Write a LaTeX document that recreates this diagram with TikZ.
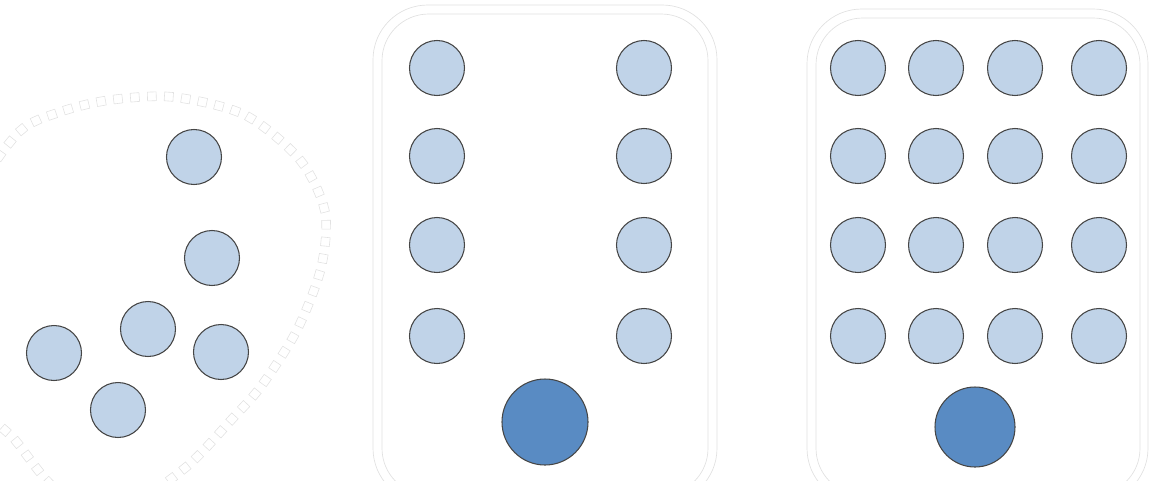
\documentclass[tikz,border=0pt]{standalone}
\usepackage{tikz}
\usetikzlibrary{decorations.markings}
\definecolor{ballfill}{RGB}{192,211,232}
\definecolor{bigfill}{RGB}{89,139,195}
\definecolor{ballline}{RGB}{70,70,70}
\definecolor{ringgray}{RGB}{226,226,226}

\begin{document}
\begin{tikzpicture}[x=0.75pt, y=-0.75pt,
    ball/.style={circle, draw=ballline, fill=ballfill, line width=0.8pt, inner sep=0pt, minimum size=41.25pt},
    bigball/.style={ball, fill=bigfill},
    frame/.style={draw=black!12, line width=0.5pt},
    ring/.style={decorate, decoration={markings, mark=between positions 0 and 1 step 12.75pt with {\draw[ringgray, line width=0.45pt] (-3.3pt,-3.3pt) rectangle (3.3pt,3.3pt);}}}]
    \useasboundingbox (0,0) rectangle (1149,480);
    \clip (0,0) rectangle (1149,480);

    % scattered group with its ring
    \path[ring] plot[smooth cycle] coordinates {(-40,300) (-25,200) (18,133) (60,112) (110,100) (173,97) (245,115) (300,160) (325,212) (321,268) (297,330) (262,385) (233,418) (185,468) (125,505) (60,492) (15,440) (-20,400)};
    \node[ball] (p1) at (194,157) {};
    \node[ball] (p2) at (212,258) {};
    \node[ball] (p3) at (148,329) {};
    \node[ball] (p4) at (221,352) {};
    \node[ball] (p5) at (54,353) {};
    \node[ball] (p6) at (118,410) {};

    % two columns
    \draw[frame, rounded corners=41pt] (373,5) rectangle (717,503);
    \draw[frame, rounded corners=35pt] (382,14) rectangle (708,495);
    \foreach \y [count=\j] in {68,156,245,336} {
        \foreach \x [count=\i] in {437,644}
            \node[ball] (m-\i-\j) at (\x,\y) {};
    }
    \node[bigball, minimum size=64.5pt] (mb) at (545,422) {};

    % full grid
    \draw[frame, rounded corners=41pt] (807,9) rectangle (1148,503);
    \draw[frame, rounded corners=35pt] (816,18) rectangle (1140,495);
    \foreach \y [count=\j] in {68,156,245,336} {
        \foreach \x [count=\i] in {858,936,1015,1099}
            \node[ball] (g-\i-\j) at (\x,\y) {};
    }
    \node[bigball, minimum size=60pt] (gb) at (975,427) {};
\end{tikzpicture}
\end{document}
